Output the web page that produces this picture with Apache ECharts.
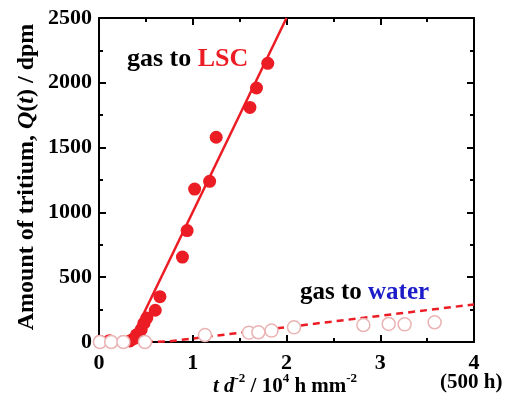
<!DOCTYPE html>
<html><head><meta charset="utf-8">
<script src="https://cdn.jsdelivr.net/npm/echarts@6/dist/echarts.min.js"></script>
<style>html,body{margin:0;padding:0;background:#fff}#c{width:512px;height:405px}</style>
</head><body><div id="c"></div>
<script>
// Data
var lscPoints = [[0.01,5],[0.11,10],[0.33,8],[0.37,25],[0.40,55],[0.45,95],[0.48,145],[0.51,185],[0.60,245],[0.65,350],[0.89,655],[0.94,860],[1.02,1180],[1.18,1240],[1.25,1580],[1.61,1810],[1.68,1960],[1.80,2150]];
var waterPoints = [[0.01,0],[0.13,0],[0.26,0],[0.49,0],[1.13,54],[1.60,72],[1.70,75],[1.84,88],[2.08,113],[2.82,131],[3.09,139],[3.26,136],[3.58,152]];
var lscFit = [[0.33,0],[2.0,2500]];
var waterFit = [[0.5,0],[0.75,5],[4,290]];
var xTicks = [0,1,2,3,4];
var yTicks = [0,500,1000,1500,2000,2500];

var RED = '#ec1c24', PINK = '#eab3b3', BLUE = '#1c1cc8';
var serif = 'Liberation Serif';
var chart = echarts.init(document.getElementById('c'));
function axisCommon(){ return {
  axisLine:{show:true,onZero:false,lineStyle:{color:'#000',width:2}},
  axisTick:{show:true,inside:true,length:7,lineStyle:{color:'#000',width:2}},
  minorTick:{show:true,splitNumber:2,length:4,lineStyle:{color:'#000',width:2}},
  splitLine:{show:false}
};}
var supRich = {
  i:{fontFamily:serif,fontWeight:'bold',fontStyle:'italic',fontSize:21,fill:'#000',verticalAlign:'bottom'},
  n:{fontFamily:serif,fontWeight:'bold',fontSize:21,fill:'#000',verticalAlign:'bottom'},
  s:{fontFamily:serif,fontWeight:'bold',fontSize:13,fill:'#000',verticalAlign:'bottom',padding:[0,0,12,0]}
};
chart.setOption({
  animation:false,
  grid:{left:99,right:38,top:18,bottom:63,containLabel:false,outerBoundsMode:'none'},
  xAxis:[
    Object.assign({type:'value',min:xTicks[0],max:xTicks[xTicks.length-1],interval:1,position:'bottom',
      axisLabel:{fontFamily:serif,fontWeight:'bold',fontSize:22,color:'#000',margin:10,
        formatter:function(v){return xTicks.indexOf(v)>=0 ? String(v) : '';}}
    },axisCommon()),
    Object.assign({type:'value',min:0,max:4,interval:1,position:'top',axisLabel:{show:false}},axisCommon())
  ],
  yAxis:[
    Object.assign({type:'value',min:yTicks[0],max:yTicks[yTicks.length-1],interval:500,position:'left',
      axisLabel:{fontFamily:serif,fontWeight:'bold',fontSize:22,color:'#000',margin:7,
        formatter:function(v){return String(v);}}
    },axisCommon()),
    Object.assign({type:'value',min:0,max:2500,interval:500,position:'right',axisLabel:{show:false}},axisCommon())
  ],
  series:[
    {type:'line',data:lscFit,showSymbol:false,symbol:'none',lineStyle:{color:RED,width:2.5},clip:true,z:2},
    {type:'line',data:waterFit,showSymbol:false,symbol:'none',lineStyle:{color:RED,width:2.5,type:[7,5]},clip:true,z:2},
    {type:'scatter',data:lscPoints,symbol:'circle',symbolSize:13,itemStyle:{color:RED,opacity:1},z:3},
    {type:'scatter',data:waterPoints,symbol:'circle',symbolSize:13,itemStyle:{color:'#fff',borderColor:PINK,borderWidth:1.5,opacity:1},z:4}
  ],
  graphic:[
    {type:'text',x:285,y:385,style:{text:'{i|t d}{s|-2}{n| / 10}{s|4}{n| h mm}{s|-2}',align:'center',verticalAlign:'middle',rich:supRich}},
    {type:'text',x:27,y:177,rotation:Math.PI/2,style:{text:'{n|Amount of tritium, }{i|Q}{n|(}{i|t}{n|) / dpm}',align:'center',verticalAlign:'middle',rich:{
        i:{fontFamily:serif,fontWeight:'bold',fontStyle:'italic',fontSize:24,fill:'#000'},
        n:{fontFamily:serif,fontWeight:'bold',fontSize:24,fill:'#000'}}}},
    {type:'text',left:127,top:46,style:{text:'{k|gas to }{r|LSC}',rich:{
      k:{fontFamily:serif,fontWeight:'bold',fontSize:26,fill:'#000'},
      r:{fontFamily:serif,fontWeight:'bold',fontSize:26,fill:RED}}}},
    {type:'text',left:300,top:280,style:{text:'{k|gas to }{b|water}',rich:{
      k:{fontFamily:serif,fontWeight:'bold',fontSize:25,fill:'#000'},
      b:{fontFamily:serif,fontWeight:'bold',fontSize:25,fill:BLUE}}}},
    {type:'text',left:440,top:372,style:{text:'(500 h)',fontFamily:serif,fontWeight:'bold',fontSize:21,fill:'#000'}}
  ]
});
</script></body></html>
